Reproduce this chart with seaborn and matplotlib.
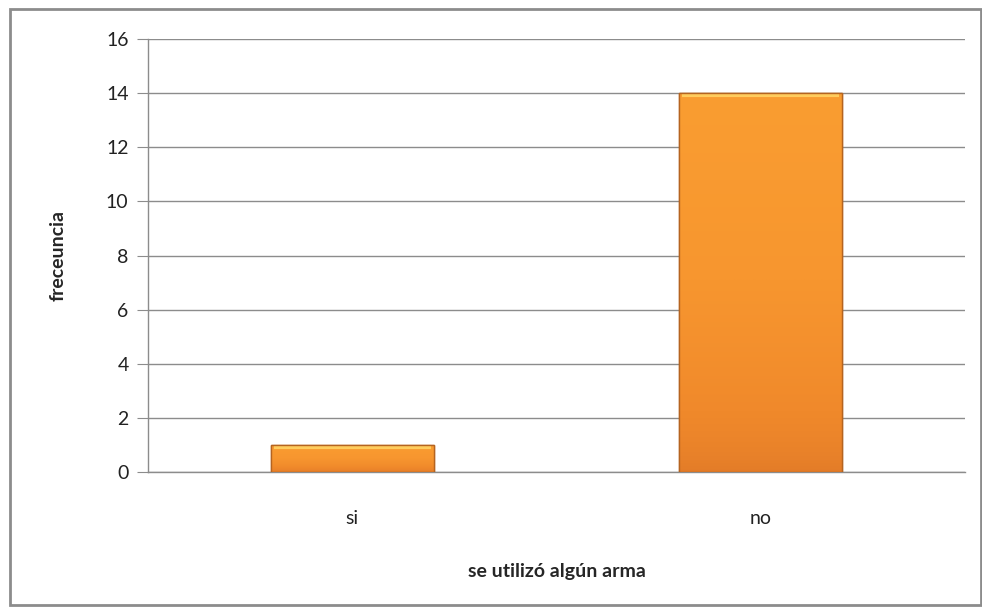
import numpy as np
import pandas as pd
import matplotlib
matplotlib.use("Agg")
import matplotlib.pyplot as plt
import matplotlib.colors as mcolors
from matplotlib.patches import Rectangle
import seaborn as sns

categorias = ["si", "no"]
frecuencia = [1, 14]
ticks_y = [0, 2, 4, 6, 8, 10, 12, 14, 16]

sns.set_style("white")
plt.rcParams['font.family'] = ['Lato', 'DejaVu Sans']

df = pd.DataFrame({"arma": categorias, "freceuncia": frecuencia})

fig = plt.figure(figsize=(9.82, 6.07), dpi=100)
ax = fig.add_axes([0.1507, 0.2224, 0.8320, 0.7133])

sns.barplot(data=df, x="arma", y="freceuncia", color="#F7992D", width=0.4,
            saturation=1, edgecolor="#B8651F", linewidth=1.0, ax=ax, zorder=3)

# gradiente tipo Excel: mas oscuro abajo, naranja claro arriba
grad = mcolors.LinearSegmentedColormap.from_list(
    "naranja", ["#E27B28", "#F0892B", "#F7962F", "#FA9D31"])
for bar in ax.patches:
    x0, y0 = bar.get_x(), bar.get_y()
    w, h = bar.get_width(), bar.get_height()
    img = ax.imshow(np.linspace(0, 1, 256).reshape(-1, 1) ** 0.6,
                    extent=[x0, x0 + w, y0, y0 + h], origin="lower",
                    aspect="auto", cmap=grad, zorder=3.5)
    img.set_clip_path(bar)
    # brillo amarillo en el borde superior
    ax.plot([x0 + w * 0.02, x0 + w * 0.98], [y0 + h - 0.07, y0 + h - 0.07],
            color="#FFCC5C", linewidth=3, solid_capstyle="butt", zorder=3.8)
    ax.add_patch(Rectangle((x0, y0), w, h, fill=False, edgecolor="#B56420",
                           linewidth=1.0, zorder=4))

ax.set_xlim(-0.5, 1.5)
ax.set_ylim(0, 16)
ax.set_yticks(ticks_y)
ax.grid(axis="y", color="#8C8C8C", linewidth=1.0, zorder=0)
ax.set_axisbelow(True)

for s in ["top", "right"]:
    ax.spines[s].set_visible(False)
for s in ["left", "bottom"]:
    ax.spines[s].set_color("#8C8C8C")
    ax.spines[s].set_linewidth(1.0)

ax.tick_params(axis="y", left=True, length=8, color="#8C8C8C", labelsize=14,
               pad=6, labelcolor="#222222")
ax.tick_params(axis="x", bottom=False, labelsize=14, pad=24, labelcolor="#222222")

ax.set_xlabel("se utilizó algún arma", fontsize=14, fontweight="bold", labelpad=26)
ax.set_ylabel("freceuncia", fontsize=14, fontweight="bold", labelpad=28)

fig.patches.append(Rectangle((0.0105, 0.004), 0.988, 0.981, transform=fig.transFigure,
                             fill=False, edgecolor="#8C8C8C", linewidth=2.0))

fig.savefig("out.png", dpi=100)
